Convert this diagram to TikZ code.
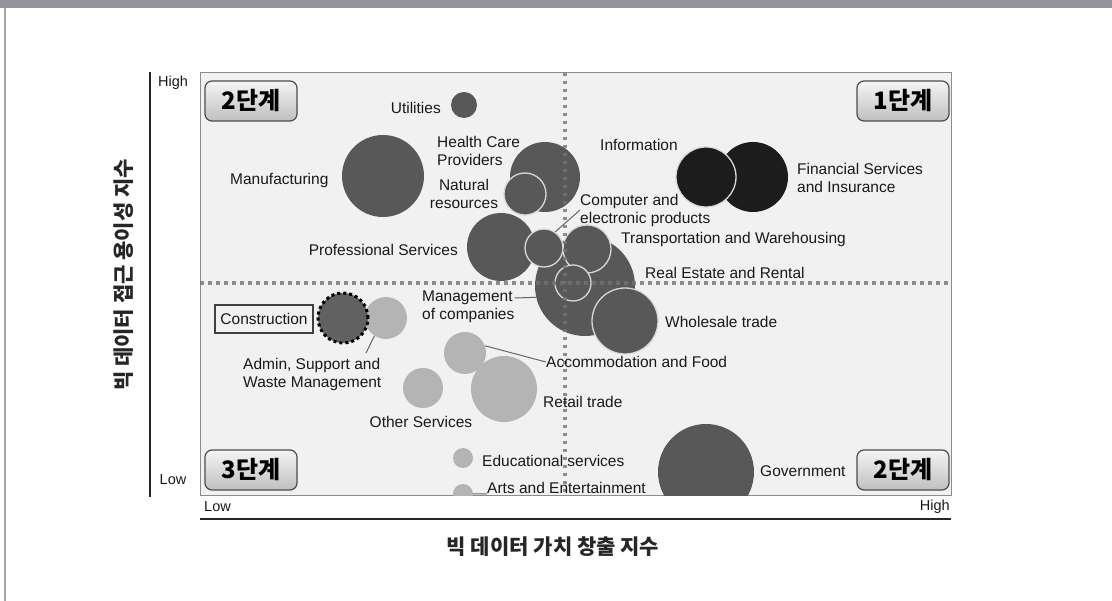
\documentclass[tikz,border=0pt]{standalone}
\usepackage{fontspec}
\setmainfont{Liberation Sans}
\newfontfamily\kr{Noto Sans CJK KR}
\definecolor{barcol}{HTML}{939598}
\definecolor{cmid}{HTML}{585858}
\definecolor{clight}{HTML}{B4B4B4}
\definecolor{cdark}{HTML}{1C1C1C}
\definecolor{framebg}{HTML}{F1F1F1}
\definecolor{ringcol}{HTML}{D8D8D8}
\begin{document}
\begin{tikzpicture}[x=1pt,y=-1pt,
  bub/.style={circle,inner sep=0pt,minimum size=#1},
  mid/.style={fill=cmid},
  light/.style={fill=clight},
  dark/.style={fill=cdark},
  ring/.style={draw=ringcol,line width=1.3pt},
  lbl/.style={font=\fontsize{15.5}{18}\selectfont,inner sep=0pt,text=black!90},
  small/.style={font=\fontsize{14.5}{16}\selectfont,inner sep=0pt,text=black!90},
  badge/.style={rounded corners=7pt,draw=black!70,line width=1.2pt,top color=white!96!black,bottom color=black!25,minimum width=92pt,minimum height=40pt,inner sep=0pt,font=\kr\bfseries\fontsize{24}{26}\selectfont},
  dotline/.style={draw=black!55,line width=3.5pt,dash pattern=on 3.5pt off 4.5pt,opacity=0.8},
  leader/.style={draw=black!60,line width=1pt},
  axis/.style={draw=black!85,line width=2pt},
  title/.style={font=\kr\bfseries\fontsize{21}{23}\selectfont,inner sep=0pt,text=black!85}]
\useasboundingbox (0,0) rectangle (1112,601);
% page decoration
\fill[barcol] (0,0) rectangle (1112,8);
\draw[black!35,line width=1.5pt] (5,8) -- (5,601);
% frame
\draw[black!45,line width=1pt,fill=framebg] (200,73) rectangle (951,496);
% axes
\draw[axis] (150,72) -- (150,497);
\draw[axis] (200,519) -- (951,519);
\node[small] (yhigh) at (173,83) {High};
\node[small] (ylow) at (173,480) {Low};
\node[small,anchor=west] (xlow) at (204,507) {Low};
\node[small,anchor=east] (xhigh) at (950,507) {High};
\node[title,rotate=90] (ytitle) at (124,275) {빅 데이터 접근 용이성 지수};
\node[title] (xtitle) at (553,547) {빅 데이터 가치 창출 지수};
% bubbles
\begin{scope}
\clip (200,73) rectangle (951,496);
\node[bub=26pt,mid] (util) at (464,105) {};
\node[bub=82pt,mid] (manu) at (383,176) {};
\node[bub=100pt,mid] (realestate) at (585,286) {};
\node[bub=70pt,mid] (health) at (545,177) {};
\node[bub=42pt,mid,ring] (natural) at (525,194) {};
\node[bub=68pt,mid] (prof) at (501,247) {};
\node[bub=66pt,mid,ring] (whole) at (625,321) {};
\node[bub=38pt,mid,ring] (comp) at (544,248) {};
\node[bub=48pt,mid,ring] (trans) at (587,249) {};
\node[bub=36pt,mid,ring] (small) at (573,283) {};
\node[bub=70pt,dark] (fin) at (753,177) {};
\node[bub=60pt,dark,ring] (info) at (706,177) {};
\node[bub=42pt,light] (admin) at (386,318) {};
\node[bub=50pt,fill=black!62,draw=black,line width=3pt,dash pattern=on 3pt off 3pt] (constr) at (343,318) {};
\node[bub=42pt,light] (accom) at (465,353) {};
\node[bub=66pt,light] (retail) at (504,389) {};
\node[bub=40pt,light] (other) at (423,388) {};
\node[bub=20pt,light] (edu) at (463,458) {};
\node[bub=20pt,light] (arts) at (463,494) {};
\node[bub=96pt,mid] (gov) at (706,472) {};
\end{scope}
% quadrant lines
\draw[dotline] (200,283) -- (951,283);
\draw[dotline] (565,73) -- (565,496);
% labels
\node[lbl,anchor=east] (utillbl) at (441,108) {Utilities};
\node[lbl,anchor=west] (manulbl) at (230,180) {Manufacturing};
\node[lbl,anchor=west,align=left] (healthlbl) at (437,151) {Health Care\\Providers};
\node[lbl,align=center] (naturallbl) at (464,194) {Natural\\resources};
\node[lbl,anchor=east] (proflbl) at (458,250) {Professional Services};
\node[lbl,anchor=west] (infolbl) at (600,145) {Information};
\node[lbl,anchor=west,align=left] (finlbl) at (797,178) {Financial Services\\and Insurance};
\node[lbl,anchor=west,align=left] (complbl) at (580,210) {Computer and\\electronic products};
\node[lbl,anchor=west] (translbl) at (621,239) {Transportation and Warehousing};
\node[lbl,anchor=west] (relbl) at (645,273) {Real Estate and Rental};
\node[lbl,anchor=west] (wholelbl) at (665,322) {Wholesale trade};
\node[lbl,anchor=west,align=left] (mgmtlbl) at (422,307) {Management\\of companies};
\node[lbl,draw=black!75,line width=2pt,inner xsep=5pt,minimum height=28pt,fill=framebg] (constrlbl) at (264,319) {Construction};
\node[lbl,anchor=west,align=left] (adminlbl) at (243,374) {Admin, Support and\\Waste Management};
\node[lbl,anchor=west] (accomlbl) at (546,362) {Accommodation and Food};
\node[lbl,anchor=west] (retaillbl) at (543,402) {Retail trade};
\node[lbl] (otherlbl) at (421,422) {Other Services};
\node[lbl,anchor=west] (edulbl) at (482,461) {Educational services};
\node[lbl,anchor=west] (artslbl) at (487,488) {Arts and Entertainment};
\node[lbl,anchor=west] (govlbl) at (760,471) {Government};
% leaders
\coordinate (adminend) at (366,353);
\draw[leader] (comp.55) -- (complbl.west);
\draw[leader] ([yshift=9pt]mgmtlbl.east) -- (realestate.193);
\draw[leader] (admin.237) -- (adminend);
\draw[leader] (accom.20) -- (accomlbl.west);
\draw[leader] (arts.east) -- (artslbl.south west);
% badges
\node[badge] (b1) at (251,101) {2단계};
\node[badge] (b2) at (903,101) {1단계};
\node[badge] (b3) at (251,470) {3단계};
\node[badge] (b4) at (903,470) {2단계};
\end{tikzpicture}
\end{document}
